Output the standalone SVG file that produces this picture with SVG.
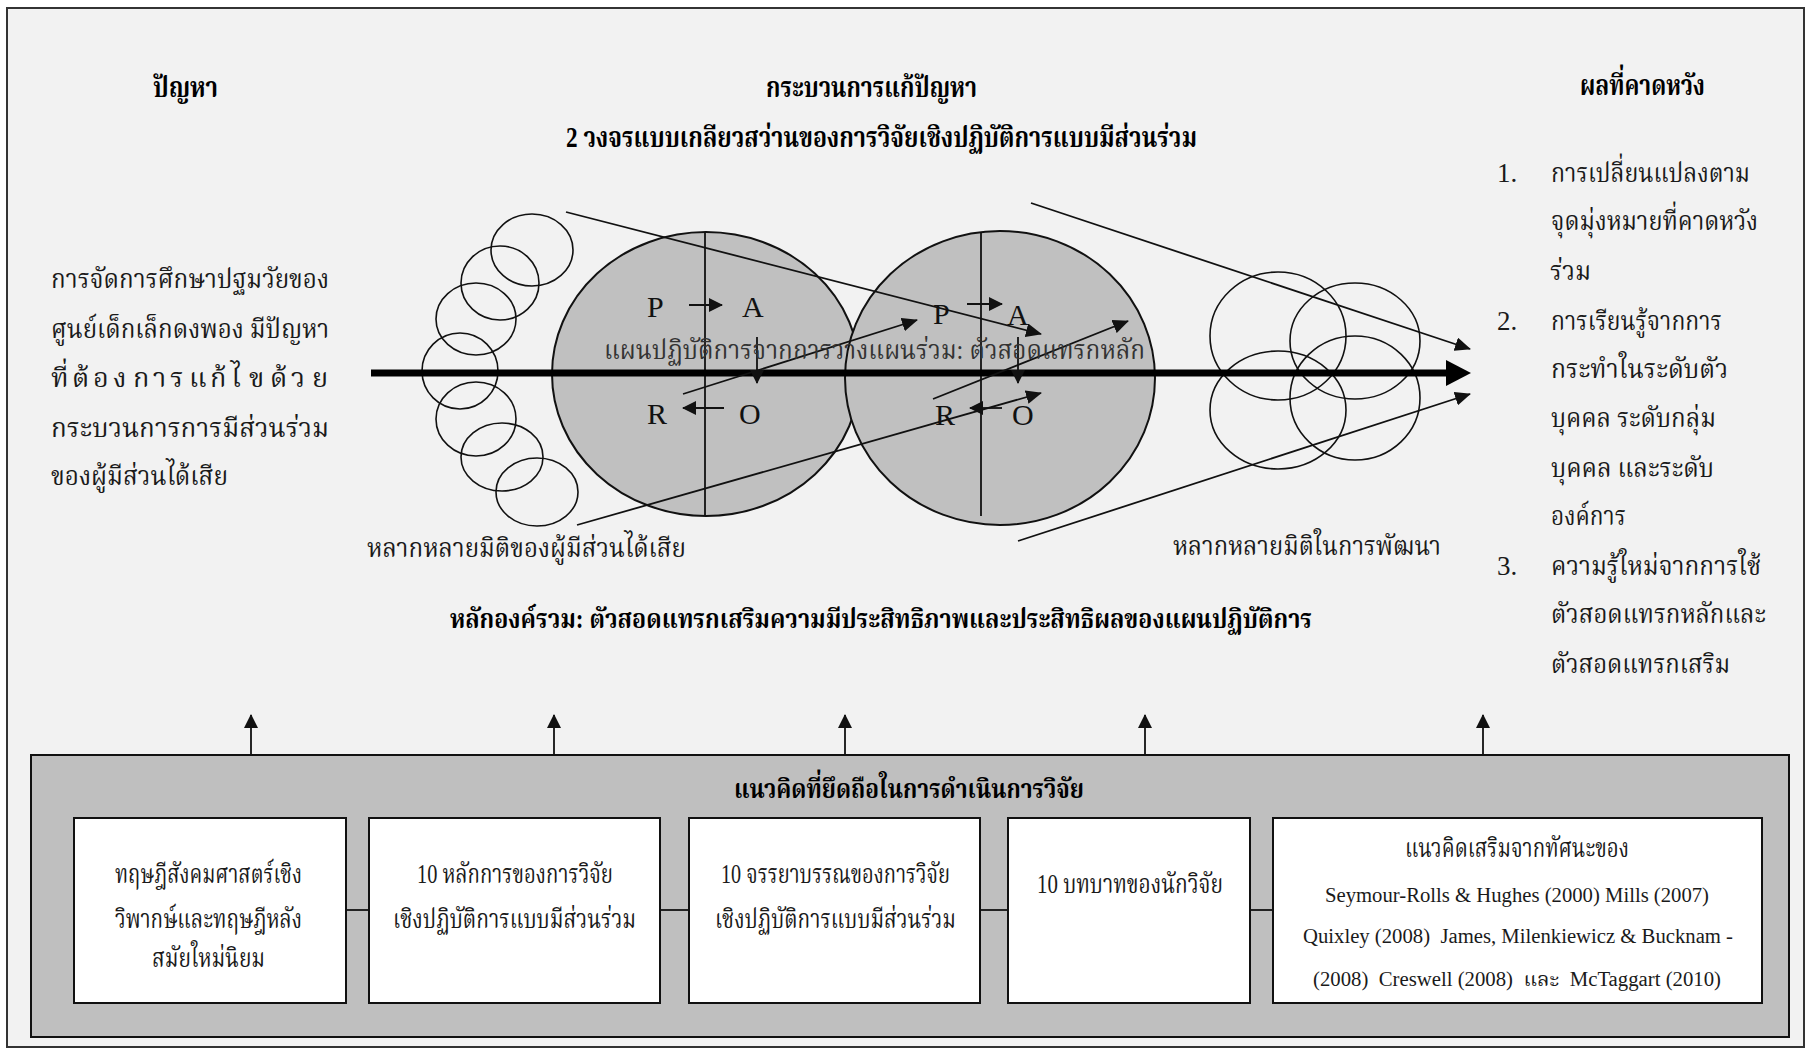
<svg xmlns="http://www.w3.org/2000/svg" width="1812" height="1050" viewBox="0 0 1812 1050">
<defs>
<style>
.t{font-family:'Liberation Serif','Noto Serif Thai','Noto Sans Thai',serif;fill:#1a1a1a}
.b{font-weight:bold;fill:#000}
.th{font-size:27px}
.tt{font-size:29px}
.lat{font-size:20px}
.ltr{font-size:30px;fill:#111}
.ln{stroke:#111;stroke-width:1.8;fill:none}
.sc{stroke:#111;stroke-width:1.6;fill:none}
.big{fill:#c0c0c0;stroke:#111;stroke-width:2}
.box{fill:#fff;stroke:#111;stroke-width:2}
</style>
<marker id="ah" viewBox="0 0 16 14" refX="15" refY="7" markerWidth="16" markerHeight="14" markerUnits="userSpaceOnUse" orient="auto"><path d="M0,0 L16,7 L0,14 z" fill="#111"/></marker>
<marker id="ahs" viewBox="0 0 14 14" refX="13" refY="7" markerWidth="14" markerHeight="14" markerUnits="userSpaceOnUse" orient="auto"><path d="M0,0 L14,7 L0,14 z" fill="#111"/></marker>
</defs>
<rect x="0" y="0" width="1812" height="1050" fill="#fff"/>
<rect id="frame" x="7" y="8" width="1797" height="1039" fill="#f2f2f2" stroke="#333" stroke-width="2"/>

<g id="spiral-cycles">
<ellipse class="big" cx="706" cy="374" rx="154" ry="142"/>
<ellipse class="big" cx="1000" cy="378" rx="155" ry="147"/>
<line x1="705" y1="232" x2="705" y2="516" stroke="#111" stroke-width="1.8"/>
<line x1="981" y1="232" x2="981" y2="516" stroke="#111" stroke-width="1.8"/>
</g>

<g id="stakeholder-circles">
<ellipse class="sc" cx="532" cy="250" rx="41" ry="36"/>
<ellipse class="sc" cx="500" cy="283" rx="39" ry="37"/>
<ellipse class="sc" cx="476" cy="319" rx="40" ry="36"/>
<ellipse class="sc" cx="460" cy="371" rx="38" ry="38"/>
<ellipse class="sc" cx="476" cy="419" rx="40" ry="37"/>
<ellipse class="sc" cx="502" cy="457" rx="41" ry="34"/>
<ellipse class="sc" cx="537" cy="492" rx="41" ry="34"/>
</g>

<g id="development-circles">
<ellipse class="sc" cx="1278" cy="336" rx="68" ry="64"/>
<ellipse class="sc" cx="1355" cy="341" rx="65" ry="58"/>
<ellipse class="sc" cx="1278" cy="410" rx="68" ry="59"/>
<ellipse class="sc" cx="1355" cy="398" rx="65" ry="62"/>
</g>

<g id="connectors">
<line x1="371" y1="373" x2="1449" y2="373" stroke="#000" stroke-width="7"/>
<polygon points="1446,360 1471,373 1446,386" fill="#000"/>
<line class="ln" x1="566" y1="212" x2="1041" y2="334" marker-end="url(#ah)"/>
<line class="ln" x1="577" y1="525" x2="1041" y2="393" marker-end="url(#ah)"/>
<line class="ln" x1="683" y1="394" x2="917" y2="320" marker-end="url(#ah)"/>
<line class="ln" x1="933" y1="399" x2="1128" y2="321" marker-end="url(#ah)"/>
<line class="ln" x1="1031" y1="203" x2="1470" y2="349" marker-end="url(#ah)"/>
<line class="ln" x1="1018" y1="541" x2="1470" y2="394" marker-end="url(#ah)"/>
<line class="ln" x1="689" y1="305" x2="722" y2="305" marker-end="url(#ahs)"/>
<line class="ln" x1="757" y1="337" x2="757" y2="383" marker-end="url(#ahs)"/>
<line class="ln" x1="724" y1="408" x2="683" y2="408" marker-end="url(#ahs)"/>
<line class="ln" x1="967" y1="304" x2="1002" y2="304" marker-end="url(#ahs)"/>
<line class="ln" x1="1018" y1="337" x2="1018" y2="383" marker-end="url(#ahs)"/>
<line class="ln" x1="1002" y1="408" x2="970" y2="408" marker-end="url(#ahs)"/>
<line class="ln" x1="251" y1="755" x2="251" y2="715" marker-end="url(#ahs)"/>
<line class="ln" x1="554" y1="755" x2="554" y2="715" marker-end="url(#ahs)"/>
<line class="ln" x1="845" y1="755" x2="845" y2="715" marker-end="url(#ahs)"/>
<line class="ln" x1="1145" y1="755" x2="1145" y2="715" marker-end="url(#ahs)"/>
<line class="ln" x1="1483" y1="755" x2="1483" y2="715" marker-end="url(#ahs)"/>
</g>

<g id="pdca-letters">
<text class="t ltr" x="647" y="317">P</text>
<text class="t ltr" x="742" y="317">A</text>
<text class="t ltr" x="647" y="424">R</text>
<text class="t ltr" x="739" y="424">O</text>
<text class="t ltr" x="933" y="324">P</text>
<text class="t ltr" x="1007" y="325">A</text>
<text class="t ltr" x="935" y="425">R</text>
<text class="t ltr" x="1012" y="425">O</text>
</g>

<g id="plan-label">
<text class="t th" x="604" y="359" textLength="541" lengthAdjust="spacingAndGlyphs" style="fill:#333">แผนปฏิบัติการจากการวางแผนร่วม: ตัวสอดแทรกหลัก</text>
</g>

<g id="header-problem">
<text class="t b tt" x="153" y="97" textLength="65" lengthAdjust="spacingAndGlyphs">ปัญหา</text>
</g>
<g id="header-process">
<text class="t b tt" x="766" y="97" textLength="211" lengthAdjust="spacingAndGlyphs">กระบวนการแก้ปัญหา</text>
<text class="t b tt" x="566" y="147" textLength="631" lengthAdjust="spacingAndGlyphs">2 วงจรแบบเกลียวสว่านของการวิจัยเชิงปฏิบัติการแบบมีส่วนร่วม</text>
</g>
<g id="header-outcome">
<text class="t b tt" x="1580" y="95" textLength="125" lengthAdjust="spacingAndGlyphs">ผลที่คาดหวัง</text>
</g>

<g id="problem-text">
<text class="t th" x="51" y="288" textLength="278" lengthAdjust="spacingAndGlyphs">การจัดการศึกษาปฐมวัยของ</text>
<text class="t th" x="51" y="338" textLength="278" lengthAdjust="spacingAndGlyphs">ศูนย์เด็กเล็กดงพอง มีปัญหา</text>
<text class="t th" y="387"><tspan x="51">ที่</tspan><tspan x="72">ต้</tspan><tspan x="93">อ</tspan><tspan x="113">ง</tspan><tspan x="133">ก</tspan><tspan x="153">า</tspan><tspan x="170">ร</tspan><tspan x="189">แ</tspan><tspan x="210">ก้</tspan><tspan x="231">ไ</tspan><tspan x="249">ข</tspan><tspan x="270">ด้</tspan><tspan x="291">ว</tspan><tspan x="312">ย</tspan></text>
<text class="t th" x="51" y="437" textLength="278" lengthAdjust="spacingAndGlyphs">กระบวนการการมีส่วนร่วม</text>
<text class="t th" x="51" y="485" textLength="177" lengthAdjust="spacingAndGlyphs">ของผู้มีส่วนได้เสีย</text>
</g>

<g id="outcome-list">
<text class="t th" x="1497" y="182">1.</text>
<text class="t th" x="1551" y="182" textLength="199" lengthAdjust="spacingAndGlyphs">การเปลี่ยนแปลงตาม</text>
<text class="t th" x="1551" y="230" textLength="207" lengthAdjust="spacingAndGlyphs">จุดมุ่งหมายที่คาดหวัง</text>
<text class="t th" x="1550" y="280" textLength="41" lengthAdjust="spacingAndGlyphs">ร่วม</text>
<text class="t th" x="1497" y="330">2.</text>
<text class="t th" x="1551" y="330" textLength="171" lengthAdjust="spacingAndGlyphs">การเรียนรู้จากการ</text>
<text class="t th" x="1551" y="378" textLength="177" lengthAdjust="spacingAndGlyphs">กระทำในระดับตัว</text>
<text class="t th" x="1551" y="427" textLength="165" lengthAdjust="spacingAndGlyphs">บุคคล ระดับกลุ่ม</text>
<text class="t th" x="1551" y="477" textLength="163" lengthAdjust="spacingAndGlyphs">บุคคล และระดับ</text>
<text class="t th" x="1551" y="525" textLength="75" lengthAdjust="spacingAndGlyphs">องค์การ</text>
<text class="t th" x="1497" y="575">3.</text>
<text class="t th" x="1551" y="575" textLength="210" lengthAdjust="spacingAndGlyphs">ความรู้ใหม่จากการใช้</text>
<text class="t th" x="1551" y="623" textLength="215" lengthAdjust="spacingAndGlyphs">ตัวสอดแทรกหลักและ</text>
<text class="t th" x="1551" y="673" textLength="179" lengthAdjust="spacingAndGlyphs">ตัวสอดแทรกเสริม</text>
</g>

<g id="labels">
<text class="t th" x="367" y="557" textLength="319" lengthAdjust="spacingAndGlyphs">หลากหลายมิติของผู้มีส่วนได้เสีย</text>
<text class="t th" x="1173" y="555" textLength="268" lengthAdjust="spacingAndGlyphs">หลากหลายมิติในการพัฒนา</text>
<text class="t b th" x="450" y="628" textLength="862" lengthAdjust="spacingAndGlyphs">หลักองค์รวม: ตัวสอดแทรกเสริมความมีประสิทธิภาพและประสิทธิผลของแผนปฏิบัติการ</text>
</g>

<g id="research-concepts">
<rect x="31" y="755" width="1758" height="282" fill="#bfbfbf" stroke="#111" stroke-width="2"/>
<text class="t b th" x="734" y="798" textLength="350" lengthAdjust="spacingAndGlyphs">แนวคิดที่ยึดถือในการดำเนินการวิจัย</text>
<g class="ln">
<line x1="346" y1="910" x2="369" y2="910"/>
<line x1="660" y1="910" x2="689" y2="910"/>
<line x1="980" y1="910" x2="1008" y2="910"/>
<line x1="1250" y1="910" x2="1273" y2="910"/>
</g>
</g>

<g id="box-theory">
<rect class="box" x="74" y="818" width="272" height="185"/>
<text class="t th" x="115" y="883" textLength="187" lengthAdjust="spacingAndGlyphs">ทฤษฎีสังคมศาสตร์เชิง</text>
<text class="t th" x="115" y="928" textLength="187" lengthAdjust="spacingAndGlyphs">วิพากษ์และทฤษฎีหลัง</text>
<text class="t th" x="152" y="967" textLength="113" lengthAdjust="spacingAndGlyphs">สมัยใหม่นิยม</text>
</g>
<g id="box-principles">
<rect class="box" x="369" y="818" width="291" height="185"/>
<text class="t th" x="417" y="883" textLength="196" lengthAdjust="spacingAndGlyphs">10 หลักการของการวิจัย</text>
<text class="t th" x="393" y="928" textLength="243" lengthAdjust="spacingAndGlyphs">เชิงปฏิบัติการแบบมีส่วนร่วม</text>
</g>
<g id="box-ethics">
<rect class="box" x="689" y="818" width="291" height="185"/>
<text class="t th" x="721" y="883" textLength="229" lengthAdjust="spacingAndGlyphs">10 จรรยาบรรณของการวิจัย</text>
<text class="t th" x="715" y="928" textLength="241" lengthAdjust="spacingAndGlyphs">เชิงปฏิบัติการแบบมีส่วนร่วม</text>
</g>
<g id="box-roles">
<rect class="box" x="1008" y="818" width="242" height="185"/>
<text class="t th" x="1037" y="893" textLength="186" lengthAdjust="spacingAndGlyphs">10 บทบาทของนักวิจัย</text>
</g>
<g id="box-additional">
<rect class="box" x="1273" y="818" width="489" height="185"/>
<text class="t th" x="1405" y="857" textLength="224" lengthAdjust="spacingAndGlyphs">แนวคิดเสริมจากทัศนะของ</text>
<text class="t lat" x="1325" y="902" textLength="384" lengthAdjust="spacingAndGlyphs">Seymour-Rolls &amp; Hughes (2000) Mills (2007)</text>
<text class="t lat" x="1303" y="943" textLength="430" lengthAdjust="spacingAndGlyphs" xml:space="preserve">Quixley (2008)  James, Milenkiewicz &amp; Bucknam -</text>
<text class="t lat" x="1313" y="986" textLength="408" lengthAdjust="spacingAndGlyphs" xml:space="preserve">(2008)  Creswell (2008)  และ  McTaggart (2010)</text>
</g>
</svg>
